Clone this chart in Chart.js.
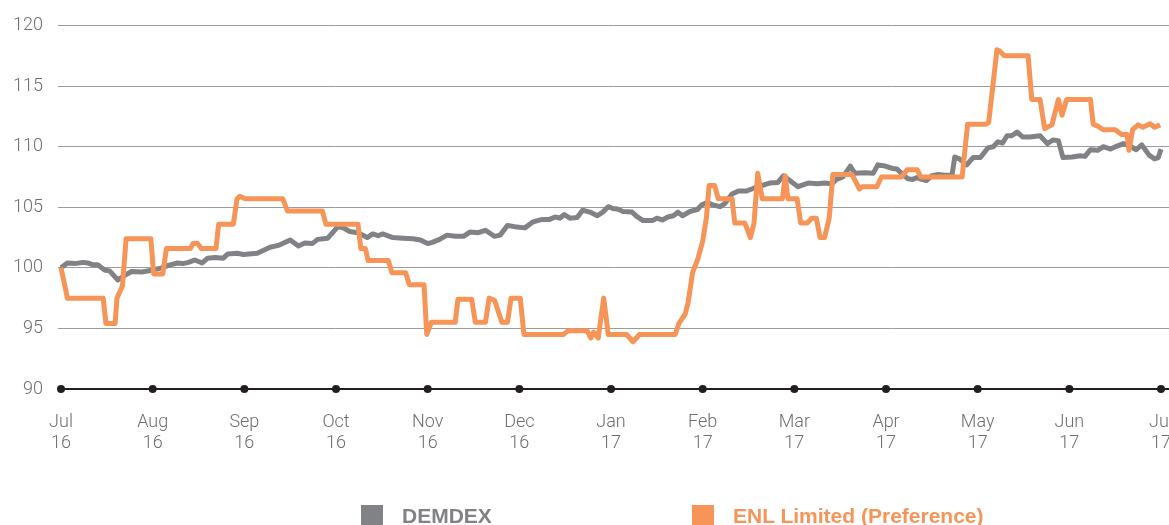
<!DOCTYPE html>
<html>
<head>
<meta charset="utf-8">
<script src="https://cdn.jsdelivr.net/npm/chart.js@4"></script>
<style>
  html, body { margin: 0; padding: 0; background: #fff; }
  #wrap { position: relative; width: 1169px; height: 525px; overflow: hidden; }
  #legend { position: absolute; left: 0; top: 0; width: 100%; height: 100%; pointer-events: none; }
  .item { position: absolute; top: 505px; height: 22px; }
  .box { position: absolute; left: 0; top: 0; width: 22px; height: 22px; }
  .label { position: absolute; left: 41px; top: 0; white-space: nowrap;
           font: bold 21px "Liberation Sans", Arial, sans-serif; line-height: 22px; }
</style>
</head>
<body>
<div id="wrap">
  <canvas id="chart" width="1169" height="525"></canvas>
  <div id="legend"></div>
</div>
<script>
// x values are in months from Jul 2016 (0 = Jul 16, 12 = Jul 17)
const monthLabels = ['Jul', 'Aug', 'Sep', 'Oct', 'Nov', 'Dec', 'Jan', 'Feb', 'Mar', 'Apr', 'May', 'Jun', 'Jul'];
const yearLabels = ['16', '16', '16', '16', '16', '16', '17', '17', '17', '17', '17', '17', '17'];

const demdexX = [0.00, 0.07, 0.15, 0.24, 0.29, 0.35, 0.40, 0.48, 0.53, 0.62, 0.70, 0.77, 0.88, 0.99, 1.10, 1.17, 1.27, 1.33, 1.39, 1.46,
  1.54, 1.60, 1.68, 1.77, 1.82, 1.92, 1.99, 2.14, 2.28, 2.37, 2.50, 2.59, 2.66, 2.74, 2.80, 2.91, 3.02, 3.08, 3.15, 3.24,
  3.34, 3.40, 3.46, 3.51, 3.62, 3.73, 3.84, 3.92, 4.00, 4.05, 4.13, 4.21, 4.30, 4.39, 4.46, 4.55, 4.63, 4.73, 4.79, 4.87,
  4.95, 5.06, 5.15, 5.25, 5.33, 5.39, 5.44, 5.49, 5.55, 5.63, 5.69, 5.77, 5.85, 5.91, 5.97, 6.02, 6.07, 6.13, 6.23, 6.28,
  6.35, 6.45, 6.50, 6.56, 6.62, 6.68, 6.73, 6.78, 6.86, 6.94, 6.99, 7.05, 7.11, 7.19, 7.24, 7.32, 7.39, 7.48, 7.55, 7.65,
  7.73, 7.82, 7.88, 7.95, 8.04, 8.15, 8.26, 8.33, 8.41, 8.46, 8.53, 8.61, 8.66, 8.77, 8.86, 8.91, 8.99, 9.07, 9.12, 9.17,
  9.24, 9.29, 9.34, 9.39, 9.44, 9.50, 9.57, 9.64, 9.72, 9.75, 9.80, 9.88, 9.95, 10.03, 10.11, 10.17, 10.22, 10.27, 10.32, 10.37,
  10.43, 10.49, 10.57, 10.68, 10.76, 10.82, 10.88, 10.93, 11.03, 11.12, 11.17, 11.23, 11.31, 11.37, 11.45, 11.52, 11.59, 11.65, 11.73, 11.79,
  11.87, 11.93, 11.97, 12.00];
const demdexY = [100.0, 100.4, 100.35, 100.45, 100.4, 100.25, 100.25, 99.8, 99.75, 99.0, 99.4, 99.7, 99.65, 99.8, 100.0, 100.2, 100.4, 100.35, 100.45, 100.65,
  100.4, 100.8, 100.85, 100.8, 101.15, 101.2, 101.1, 101.2, 101.7, 101.85, 102.3, 101.8, 102.05, 102.0, 102.35, 102.45, 103.4, 103.3, 103.0, 102.9,
  102.5, 102.8, 102.65, 102.8, 102.5, 102.45, 102.4, 102.3, 102.0, 102.1, 102.35, 102.7, 102.6, 102.6, 102.95, 102.9, 103.1, 102.6, 102.7, 103.5,
  103.4, 103.3, 103.8, 104.0, 104.0, 104.2, 104.1, 104.4, 104.1, 104.15, 104.75, 104.6, 104.3, 104.6, 105.05, 104.9, 104.85, 104.65, 104.6, 104.25,
  103.9, 103.9, 104.1, 103.95, 104.2, 104.3, 104.6, 104.3, 104.65, 104.8, 105.2, 105.4, 105.2, 105.05, 105.3, 106.1, 106.35, 106.35, 106.55, 106.8,
  107.0, 107.05, 107.6, 107.2, 106.7, 107.0, 106.95, 107.0, 106.95, 107.3, 107.5, 108.4, 107.8, 107.85, 107.8, 108.5, 108.4, 108.2, 108.15, 107.8,
  107.35, 107.3, 107.45, 107.3, 107.2, 107.6, 107.7, 107.65, 107.65, 109.15, 109.0, 108.5, 109.1, 109.1, 109.9, 110.0, 110.4, 110.3, 110.9, 110.9,
  111.2, 110.8, 110.8, 110.9, 110.25, 110.55, 110.5, 109.1, 109.15, 109.25, 109.2, 109.75, 109.7, 110.0, 109.8, 110.05, 110.25, 110.1, 109.75, 110.15,
  109.3, 109.0, 109.1, 109.8];

const enlX = [0.00, 0.07, 0.46, 0.49, 0.59, 0.61, 0.67, 0.71, 0.98, 1.01, 1.11, 1.15, 1.41, 1.44, 1.49, 1.53, 1.69, 1.72, 1.88, 1.92,
  1.95, 2.01, 2.42, 2.47, 2.85, 2.89, 3.24, 3.27, 3.32, 3.35, 3.57, 3.61, 3.76, 3.80, 3.96, 3.99, 4.04, 4.30, 4.33, 4.48,
  4.52, 4.63, 4.67, 4.73, 4.81, 4.87, 4.91, 5.01, 5.05, 5.48, 5.53, 5.74, 5.78, 5.81, 5.86, 5.92, 5.97, 6.17, 6.24, 6.31,
  6.70, 6.74, 6.81, 6.84, 6.89, 6.95, 7.00, 7.04, 7.07, 7.13, 7.17, 7.32, 7.35, 7.46, 7.52, 7.56, 7.60, 7.65, 7.87, 7.90,
  7.93, 8.03, 8.07, 8.14, 8.19, 8.24, 8.28, 8.33, 8.38, 8.42, 8.63, 8.71, 8.74, 8.90, 8.95, 9.17, 9.23, 9.34, 9.38, 9.83,
  9.89, 10.09, 10.12, 10.21, 10.24, 10.29, 10.55, 10.59, 10.68, 10.73, 10.81, 10.88, 10.92, 10.97, 11.23, 11.26, 11.31, 11.37, 11.50, 11.57,
  11.63, 11.65, 11.69, 11.75, 11.80, 11.88, 11.93, 11.99];
const enlY = [100.0, 97.5, 97.5, 95.4, 95.4, 97.5, 98.5, 102.4, 102.4, 99.5, 99.5, 101.6, 101.6, 102.0, 102.0, 101.6, 101.6, 103.6, 103.6, 105.7,
  105.9, 105.7, 105.7, 104.7, 104.7, 103.6, 103.6, 101.6, 101.6, 100.6, 100.6, 99.6, 99.6, 98.6, 98.6, 94.5, 95.5, 95.5, 97.4, 97.4,
  95.5, 95.5, 97.5, 97.3, 95.5, 95.5, 97.5, 97.5, 94.5, 94.5, 94.8, 94.8, 94.2, 94.7, 94.2, 97.5, 94.5, 94.5, 93.9, 94.5,
  94.5, 95.4, 96.2, 97.1, 99.6, 100.8, 102.2, 104.1, 106.8, 106.8, 105.7, 105.7, 103.7, 103.7, 102.5, 103.7, 107.8, 105.7, 105.7, 107.6,
  105.7, 105.7, 103.7, 103.7, 104.1, 104.1, 102.5, 102.5, 104.1, 107.7, 107.7, 106.5, 106.7, 106.7, 107.5, 107.5, 108.1, 108.1, 107.5, 107.5,
  111.85, 111.85, 112.0, 118.0, 117.9, 117.5, 117.5, 113.9, 113.9, 111.5, 111.8, 113.9, 112.6, 113.9, 113.9, 111.85, 111.7, 111.4, 111.4, 111.0,
  111.0, 109.7, 111.4, 111.8, 111.6, 111.9, 111.6, 111.8];

const seriesNames = ['DEMDEX', 'ENL Limited (Preference)'];
const seriesColors = ['#818285', '#f79457'];

const toPoints = (xs, ys) => xs.map((x, i) => ({ x: x, y: ys[i] }));

const tickFont = { family: 'Roboto, "Liberation Sans", Arial, sans-serif', size: 18, weight: '300', lineHeight: 1.17 };
const tickColor = '#6d6e71';

// black dots on the x axis at each month
const axisDots = {
  id: 'axisDots',
  afterDraw(chart) {
    const ctx = chart.ctx;
    const xs = chart.scales.x;
    const y = chart.chartArea.bottom;
    ctx.save();
    ctx.fillStyle = '#231f20';
    xs.ticks.forEach(t => {
      ctx.beginPath();
      ctx.arc(xs.getPixelForValue(t.value), y, 4, 0, Math.PI * 2);
      ctx.fill();
    });
    ctx.restore();
  }
};

const chart = new Chart(document.getElementById('chart'), {
  type: 'line',
  data: {
    datasets: [
      { label: seriesNames[0], data: toPoints(demdexX, demdexY), borderColor: seriesColors[0], backgroundColor: seriesColors[0], order: 1 },
      { label: seriesNames[1], data: toPoints(enlX, enlY), borderColor: seriesColors[1], backgroundColor: seriesColors[1], order: 0 }
    ]
  },
  options: {
    responsive: false,
    animation: false,
    events: [],
    layout: { padding: { top: 22, right: 0, bottom: 66, left: 0 } },
    elements: {
      line: { borderWidth: 5, tension: 0, borderJoinStyle: 'round', borderCapStyle: 'butt' },
      point: { radius: 0 }
    },
    plugins: { legend: { display: false }, tooltip: { enabled: false } },
    scales: {
      x: {
        type: 'linear',
        min: -0.033,
        max: 12.087,
        afterBuildTicks: scale => { scale.ticks = monthLabels.map((m, i) => ({ value: i })); },
        afterFit: scale => {
          scale.height = 70;
          scale.paddingLeft = 0;
          scale.paddingRight = 0;
        },
        grid: { display: false, drawTicks: false },
        border: { display: true, color: '#231f20', width: 2 },
        ticks: {
          padding: 23,
          maxRotation: 0,
          autoSkip: false,
          color: tickColor,
          font: tickFont,
          callback: value => [monthLabels[value], yearLabels[value]]
        }
      },
      y: {
        min: 90,
        max: 120,
        afterFit: scale => { scale.width = 58; },
        grid: {
          drawTicks: false,
          color: ctx => ctx.tick && ctx.tick.value === 90 ? 'rgba(0,0,0,0)' : '#9b9b9b',
          lineWidth: 1
        },
        border: { display: false },
        ticks: { stepSize: 5, padding: 15, color: tickColor, font: tickFont }
      }
    }
  },
  plugins: [axisDots]
});

// legend under the chart, built from the datasets
const legendPos = [361, 692];
document.getElementById('legend').innerHTML = chart.data.datasets.map((ds, i) => `
  <div class="item" style="left:${legendPos[i]}px">
    <div class="box" style="background:${ds.borderColor}"></div>
    <div class="label" style="color:${i === 0 ? '#808285' : ds.borderColor}">${ds.label}</div>
  </div>`).join('');
</script>
</body>
</html>
